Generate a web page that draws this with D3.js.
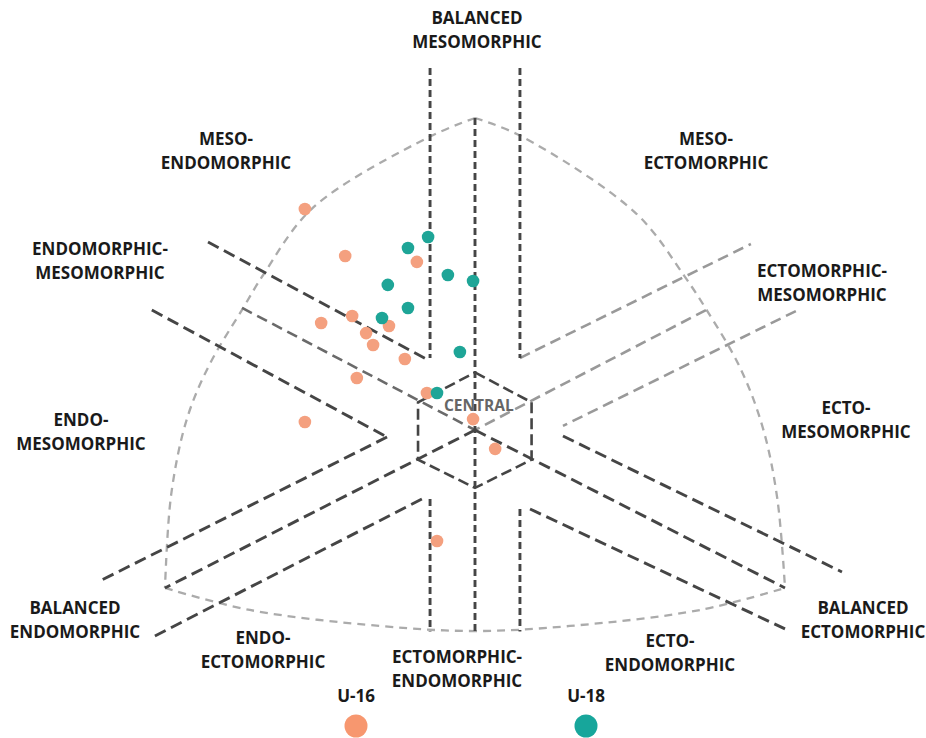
<!DOCTYPE html>
<html>
<head>
<meta charset="utf-8">
<script src="https://cdn.jsdelivr.net/npm/d3@7"></script>
<style>
  body { margin: 0; background: #fff; }
  .label { font-family: "Open Sans", sans-serif; font-weight: 700; font-size: 17px; fill: #1a1a1a; text-anchor: middle; }
  .central { font-family: "Open Sans", sans-serif; font-weight: 700; font-size: 15.5px; fill: #666; text-anchor: middle; }
</style>
</head>
<body>
<svg id="chart"></svg>
<script>
const width = 926, height = 738;

// somatotype points (Heath-Carter X = ecto - endo, Y = 2*meso - endo - ecto)
const u16 = [
  [-4.39, 11.33], [-3.35, 8.92], [-1.50, 8.62], [-3.17, 5.85], [-3.97, 5.49],
  [-2.22, 5.33], [-2.81, 4.97], [-2.63, 4.36], [-1.81, 3.64], [-3.05, 2.67],
  [-1.24, 1.90], [-4.39, 0.41], [-0.05, 0.56], [0.52, -0.97], [-0.98, -5.69]
];
const u18 = [
  [-1.21, 9.90], [-1.73, 9.33], [-0.70, 7.95], [-0.05, 7.64], [-2.25, 7.44],
  [-1.73, 6.26], [-2.40, 5.74], [-0.39, 4.00], [-0.98, 1.90]
];
const groups = ['U-16', 'U-18'];

// outline of the chart (somatochart units)
const leftArc = [[0, 16], [-1.16, 15.05], [-4.18, 11.4], [-5.45, 8.0], [-6.0, 6.2],
  [-6.84, 3.4], [-7.43, 0.6], [-7.84, -3.3], [-8, -8.1]];
const rightArc = [[0, 16], [1.16, 15.1], [4.16, 11.1], [5.4, 7.9], [5.98, 6.15],
  [6.84, 3.2], [7.43, 0.1], [7.8, -3.5], [8, -8.1]];
const bottomArc = [[-8, -8.1], [-5.81, -9.23], [-2.45, -10.05], [0, -10.31],
  [2.45, -10.05], [5.81, -9.23], [8, -8.1]];

const hexagon = [[0, 2.95], [1.46, 1.42], [1.46, -1.52], [0, -2.97], [-1.47, -1.52], [-1.47, 1.42]];

// region boundaries
const darkLines = [
  [[-1.16, 18.56], [-1.16, 3.69]],
  [[1.16, 18.56], [1.16, 3.69]],
  [[0, 16], [0, -10.31]],
  [[-6.89, 9.64], [-1.21, 3.59]],
  [[-8.34, 6.15], [-2.27, -0.36]],
  [[-2.27, -0.36], [-9.68, -7.74]],
  [[-8.26, -10.56], [-1.37, -3.54]],
  [[-1.16, -3.54], [-1.16, -10.33]],
  [[1.16, -4.05], [1.16, -10.33]],
  [[2.27, -0.31], [9.47, -7.28]],
  [[1.42, -4.05], [8.0, -10.2]],
  [[0, 0], [8.0, -8.1]],
  [[0, 0], [-8, -8.1]]
];
const midLines = [
  [[-6.01, 6.26], [0, 0]]
];
const lightLines = [
  [[1.16, 3.69], [7.12, 9.54]],
  [[5.96, 6.15], [0, 0]],
  [[8.28, 6.10], [2.27, 0.21]]
];

const regionNames = [
  ['BALANCED', 'MESOMORPHIC'],
  ['MESO-', 'ENDOMORPHIC'],
  ['MESO-', 'ECTOMORPHIC'],
  ['ENDOMORPHIC-', 'MESOMORPHIC'],
  ['ECTOMORPHIC-', 'MESOMORPHIC'],
  ['ENDO-', 'MESOMORPHIC'],
  ['ECTO-', 'MESOMORPHIC'],
  ['BALANCED', 'ENDOMORPHIC'],
  ['BALANCED', 'ECTOMORPHIC'],
  ['ENDO-', 'ECTOMORPHIC'],
  ['ECTOMORPHIC-', 'ENDOMORPHIC'],
  ['ECTO-', 'ENDOMORPHIC']
];
const regionPos = [
  [477, 24], [226, 145], [706, 145], [100, 255], [822, 277], [81, 426],
  [846, 414], [75, 614], [863, 614], [263, 644], [457, 663], [670, 647]
];

const svg = d3.select('#chart')
  .attr('width', width)
  .attr('height', height);

const x = d3.scaleLinear().domain([-8, 8]).range([165, 785]);
const y = d3.scaleLinear().domain([-8, 16]).range([586, 118]);

const curve = d3.line().x(d => x(d[0])).y(d => y(d[1])).curve(d3.curveCatmullRom);
const straight = d3.line().x(d => x(d[0])).y(d => y(d[1]));

// outline
svg.append('g')
  .selectAll('path')
  .data([leftArc, rightArc, bottomArc])
  .join('path')
  .attr('d', curve)
  .attr('fill', 'none')
  .attr('stroke', '#ababab')
  .attr('stroke-width', 2.3)
  .attr('stroke-dasharray', '8,6');

svg.append('g')
  .selectAll('path')
  .data(lightLines)
  .join('path')
  .attr('d', straight)
  .attr('fill', 'none')
  .attr('stroke', '#999')
  .attr('stroke-width', 2.6)
  .attr('stroke-dasharray', '11,6');

svg.append('g')
  .selectAll('path')
  .data(midLines)
  .join('path')
  .attr('d', straight)
  .attr('fill', 'none')
  .attr('stroke', '#6a6a6a')
  .attr('stroke-width', 2.6)
  .attr('stroke-dasharray', '11,6');

svg.append('g')
  .selectAll('path')
  .data(darkLines)
  .join('path')
  .attr('d', straight)
  .attr('fill', 'none')
  .attr('stroke', '#454545')
  .attr('stroke-width', 2.9)
  .attr('stroke-dasharray', d => d[0][0] === d[1][0] ? '7,4' : '12,6');

svg.append('path')
  .datum(hexagon)
  .attr('d', d => straight(d) + 'Z')
  .attr('fill', 'none')
  .attr('stroke', '#454545')
  .attr('stroke-width', 2.6)
  .attr('stroke-dasharray', '11,5');

svg.append('text')
  .attr('class', 'central')
  .attr('x', x(0.1))
  .attr('y', y(1.0))
  .text('CENTRAL');

// region labels
const labels = svg.append('g')
  .selectAll('text')
  .data(regionNames)
  .join('text')
  .attr('class', 'label')
  .attr('x', (d, i) => regionPos[i][0])
  .attr('y', (d, i) => regionPos[i][1]);
labels.append('tspan').text(d => d[0]);
labels.append('tspan')
  .attr('x', (d, i) => regionPos[i][0])
  .attr('dy', 23.5)
  .text(d => d[1]);

// data points
const colors = ['#f4a07f', '#1ea597'];
[u16, u18].forEach((pts, k) => {
  svg.append('g')
    .selectAll('circle')
    .data(pts)
    .join('circle')
    .attr('cx', d => x(d[0]))
    .attr('cy', d => y(d[1]))
    .attr('r', 6.3)
    .attr('fill', colors[k]);
});

// legend
const legendX = [356, 586];
const legend = svg.append('g')
  .selectAll('g')
  .data(groups)
  .join('g')
  .attr('transform', (d, i) => `translate(${legendX[i]},0)`);
legend.append('text')
  .attr('class', 'label')
  .attr('y', 702)
  .text(d => d);
legend.append('circle')
  .attr('cy', 726)
  .attr('r', 11.5)
  .attr('fill', (d, i) => i === 0 ? '#f7976f' : '#17a69b');
</script>
</body>
</html>
